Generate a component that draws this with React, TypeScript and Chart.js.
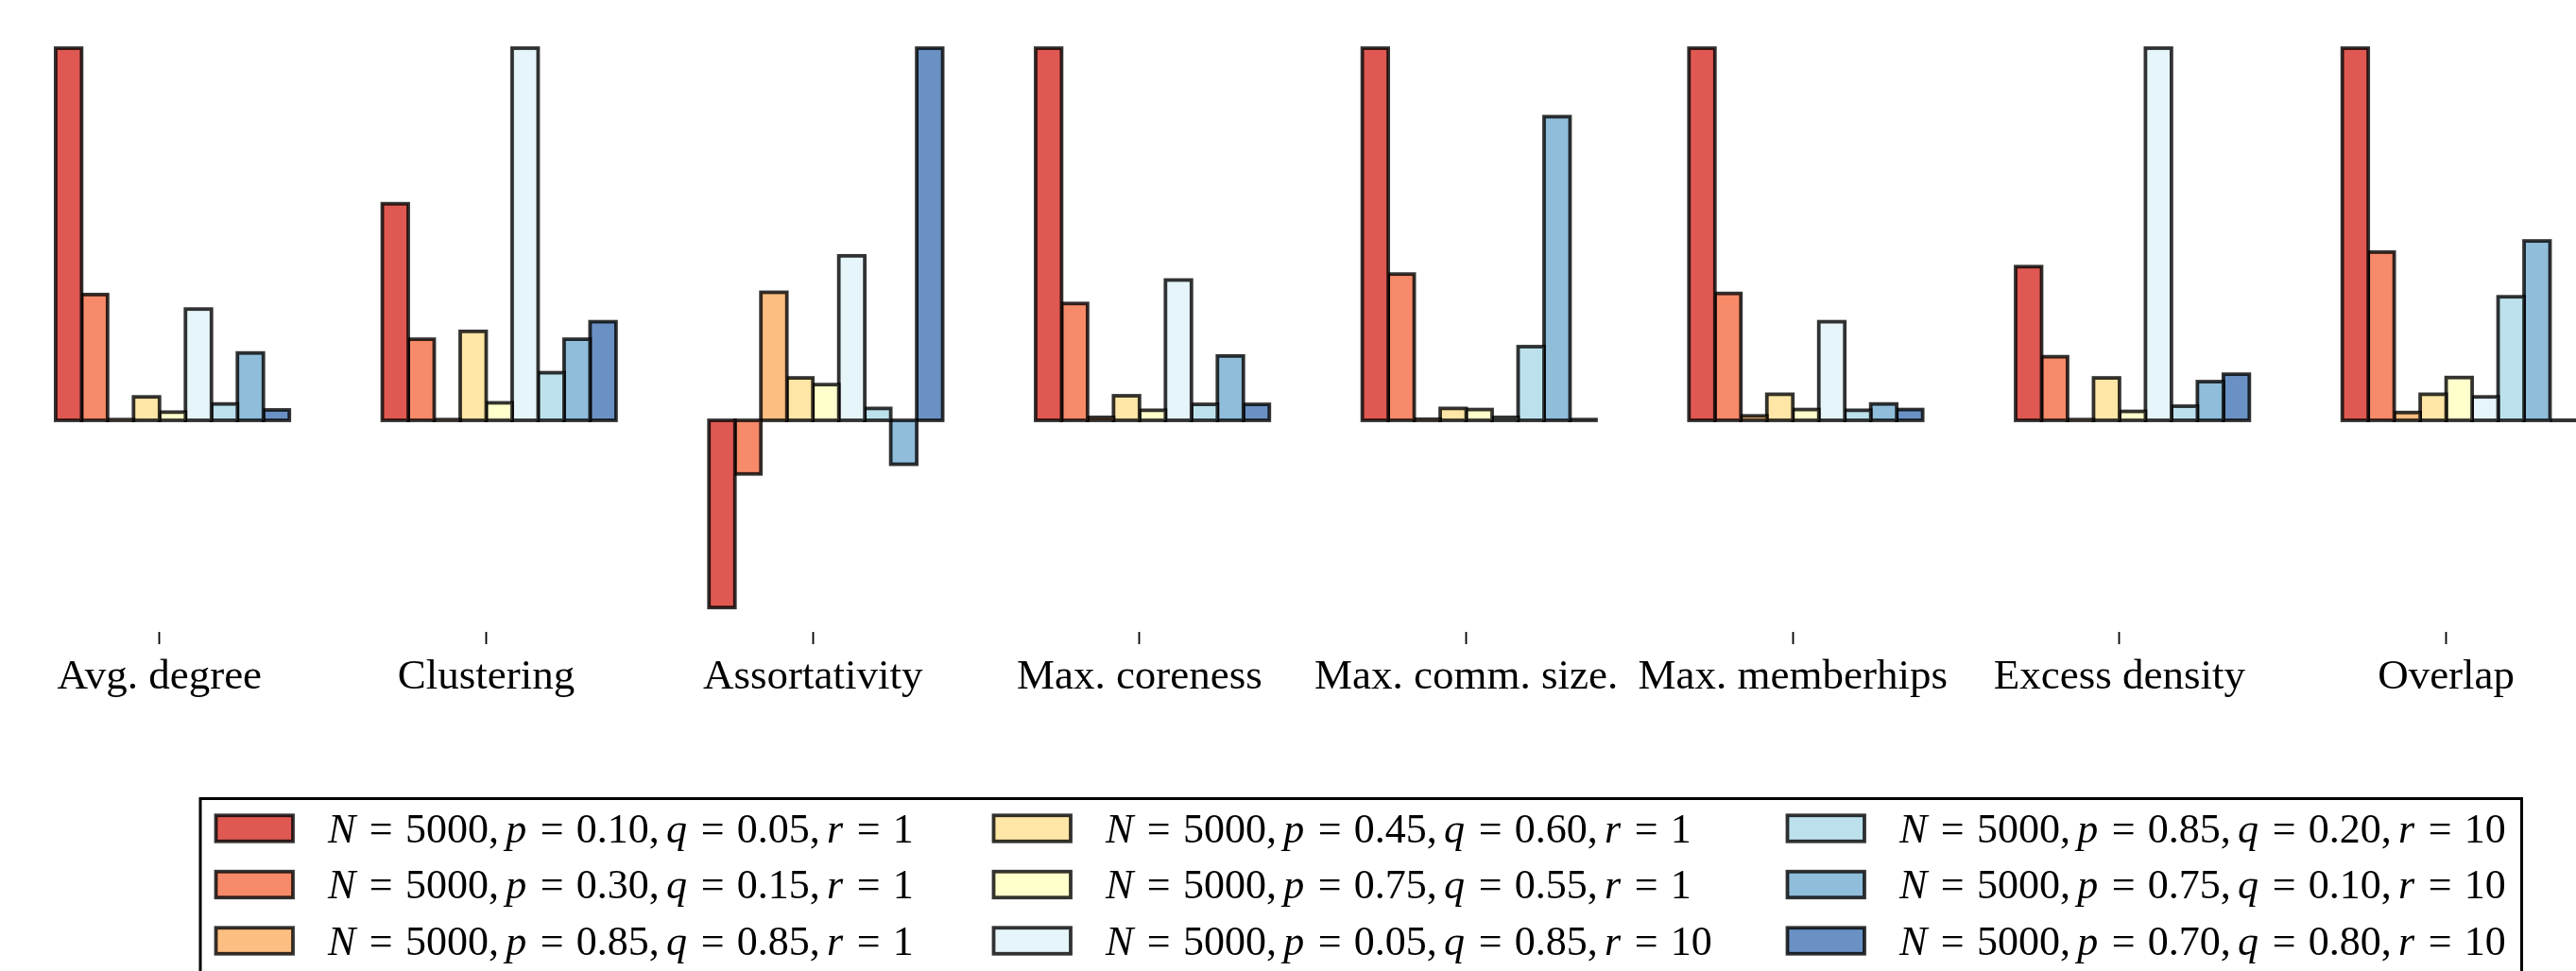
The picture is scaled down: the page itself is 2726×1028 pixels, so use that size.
import React, { useEffect, useRef } from 'react';
import { Chart, registerables } from 'chart.js';

Chart.register(...registerables);

// ---------- data ----------
const CATEGORIES = [
  'Avg. degree',
  'Clustering',
  'Assortativity',
  'Max. coreness',
  'Max. comm. size.',
  'Max. memberhips',
  'Excess density',
  'Overlap',
];

const SERIES_LABELS = [
  'N = 5000, p = 0.10, q = 0.05, r = 1',
  'N = 5000, p = 0.30, q = 0.15, r = 1',
  'N = 5000, p = 0.85, q = 0.85, r = 1',
  'N = 5000, p = 0.45, q = 0.60, r = 1',
  'N = 5000, p = 0.75, q = 0.55, r = 1',
  'N = 5000, p = 0.05, q = 0.85, r = 10',
  'N = 5000, p = 0.85, q = 0.20, r = 10',
  'N = 5000, p = 0.75, q = 0.10, r = 10',
  'N = 5000, p = 0.70, q = 0.80, r = 10',
];

// RdYlBu colours seen at 80% opacity on white
const SERIES_COLORS = [
  'rgb(223,89,82)',
  'rgb(246,138,105)',
  'rgb(253,190,129)',
  'rgb(254,230,166)',
  'rgb(255,255,204)',
  'rgb(230,245,249)',
  'rgb(188,225,237)',
  'rgb(144,189,218)',
  'rgb(106,145,195)',
];

// normalised values per metric (order follows CATEGORIES)
const S_P010_Q005 = [1.0, 0.582, -0.503, 1.0, 1.0, 1.0, 0.413, 1.0];
const S_P030_Q015 = [0.338, 0.218, -0.144, 0.314, 0.393, 0.341, 0.171, 0.452];
const S_P085_Q085 = [0.002, 0.002, 0.344, 0.008, 0.003, 0.012, 0.002, 0.021];
const S_P045_Q060 = [0.063, 0.239, 0.114, 0.066, 0.032, 0.07, 0.114, 0.07];
const S_P075_Q055 = [0.022, 0.047, 0.096, 0.027, 0.029, 0.029, 0.024, 0.115];
const S_P005_Q085 = [0.299, 1.0, 0.442, 0.377, 0.008, 0.265, 1.0, 0.063];
const S_P085_Q020 = [0.044, 0.128, 0.032, 0.043, 0.198, 0.027, 0.038, 0.332];
const S_P075_Q010 = [0.181, 0.218, -0.118, 0.173, 0.816, 0.044, 0.104, 0.482];
const S_P070_Q080 = [0.028, 0.265, 1.0, 0.043, 0.002, 0.029, 0.124, 0.0];

const SERIES_VALUES = [
  S_P010_Q005,
  S_P030_Q015,
  S_P085_Q085,
  S_P045_Q060,
  S_P075_Q055,
  S_P005_Q085,
  S_P085_Q020,
  S_P075_Q010,
  S_P070_Q080,
];

// ---------- layout / style constants ----------
const W = 2726;
const H = 1028;
const Y_MIN = -0.5685;
const Y_MAX = 1.1;
const EDGE = 'rgba(0,0,0,0.8)';
const EDGE_W = 3.8;
const SERIF = '"Liberation Serif", "Times New Roman", serif';
const LABEL_SIZE = 45;
const LEGEND_SIZE = 44;

// matplotlib-like edges around every bar (drawn from the library's bar elements)
const edgePlugin = {
  id: 'barEdges',
  afterDatasetDraw(chart: any, args: any) {
    if (args.index === 0) return; // spacer dataset
    const ctx = chart.ctx;
    ctx.save();
    ctx.strokeStyle = EDGE;
    ctx.lineWidth = EDGE_W;
    for (const el of args.meta.data) {
      const { x, y, base, width } = el.getProps(['x', 'y', 'base', 'width'], true);
      ctx.strokeRect(x - width / 2, Math.min(y, base), width, Math.abs(base - y));
    }
    ctx.restore();
  },
};

function tokenize(label: string) {
  return label.match(/[A-Za-z]+|[0-9.]+|=|,/g) || [];
}

function drawMathLabel(ctx: CanvasRenderingContext2D, label: string, x: number, y: number, size: number) {
  const roman = `${size}px ${SERIF}`;
  const italic = `italic ${size}px ${SERIF}`;
  const thick = 0.3 * size;
  const thin = 0.167 * size;
  let cx = x;
  const toks = tokenize(label);
  toks.forEach((t) => {
    if (t === '=') {
      cx += thick;
      ctx.font = roman;
      ctx.fillText('=', cx, y);
      cx += ctx.measureText('=').width + thick;
    } else if (t === ',') {
      ctx.font = roman;
      ctx.fillText(',', cx, y);
      cx += ctx.measureText(',').width + thin;
    } else if (/^[A-Za-z]+$/.test(t)) {
      ctx.font = italic;
      ctx.fillText(t, cx, y);
      cx += ctx.measureText(t).width + 0.03 * size;
    } else {
      ctx.font = roman;
      ctx.fillText(t, cx, y);
      cx += ctx.measureText(t).width;
    }
  });
  return cx - x;
}

const legendPlugin = {
  id: 'mplLegend',
  afterDraw(chart: any) {
    const ctx: CanvasRenderingContext2D = chart.ctx;
    const frame = { left: 212, top: 845.5, right: 2668.5 };
    const colX = [228.5, 1051.5, 1891.5];
    const rowY = [877, 936.5, 996];
    const swW = 81.5;
    const swH = 27.5;
    const textGap = 118.5;
    ctx.save();
    ctx.fillStyle = '#fff';
    ctx.fillRect(frame.left, frame.top, frame.right - frame.left, H - frame.top + 20);
    ctx.strokeStyle = '#000';
    ctx.lineWidth = 3;
    ctx.strokeRect(frame.left, frame.top, frame.right - frame.left, H - frame.top + 40);
    SERIES_LABELS.forEach((label, i) => {
      const col = Math.floor(i / 3);
      const row = i % 3;
      const sx = colX[col];
      const sy = rowY[row] - swH / 2;
      ctx.fillStyle = SERIES_COLORS[i];
      ctx.fillRect(sx, sy, swW, swH);
      ctx.strokeStyle = EDGE;
      ctx.lineWidth = EDGE_W;
      ctx.strokeRect(sx, sy, swW, swH);
      ctx.fillStyle = '#000';
      ctx.textBaseline = 'alphabetic';
      ctx.textAlign = 'left';
      drawMathLabel(ctx, label, sx + textGap, rowY[row] + 14.5, LEGEND_SIZE);
    });
    ctx.restore();
  },
};

export default function App() {
  const ref = useRef<HTMLCanvasElement | null>(null);

  useEffect(() => {
    if (!ref.current) return;
    const datasets: any[] = [
      {
        // invisible spacer: puts each tick at the left edge of the 5th bar
        label: '',
        data: CATEGORIES.map(() => 0),
        backgroundColor: 'rgba(0,0,0,0)',
        borderWidth: 0,
      },
      ...SERIES_LABELS.map((label, i) => ({
        label,
        data: SERIES_VALUES[i],
        backgroundColor: SERIES_COLORS[i],
        borderWidth: 0,
      })),
    ];

    const chart = new Chart(ref.current, {
      type: 'bar',
      data: { labels: CATEGORIES, datasets },
      plugins: [edgePlugin, legendPlugin],
      options: {
        animation: false,
        responsive: false,
        devicePixelRatio: 1,
        datasets: {
          bar: {
            barPercentage: 1,
            categoryPercentage: 0.795,
            clip: false,
          },
        },
        layout: {
          padding: { left: 168.8, right: W - 2588.6, top: 11.6, bottom: H - 669 - 100 },
        },
        plugins: {
          legend: { display: false },
          tooltip: { enabled: false },
        },
        scales: {
          x: {
            type: 'category',
            offset: false,
            afterFit: (scale: any) => {
              scale.height = 100;
            },
            border: { display: false },
            grid: {
              offset: false,
              drawOnChartArea: false,
              drawTicks: true,
              tickLength: 13,
              tickWidth: 1.8,
              tickColor: '#000',
            },
            ticks: {
              color: '#000',
              font: { family: SERIF, size: LABEL_SIZE },
              padding: 8,
              autoSkip: false,
              maxRotation: 0,
              minRotation: 0,
            },
          },
          y: {
            display: false,
            min: Y_MIN,
            max: Y_MAX,
          },
        },
      } as any,
    });
    return () => chart.destroy();
  }, []);

  return (
    <div style={{ position: 'absolute', left: 0, top: 0, width: W, height: H, background: '#fff' }}>
      <canvas ref={ref} width={W} height={H} style={{ display: 'block', width: W, height: H }} />
    </div>
  );
}
